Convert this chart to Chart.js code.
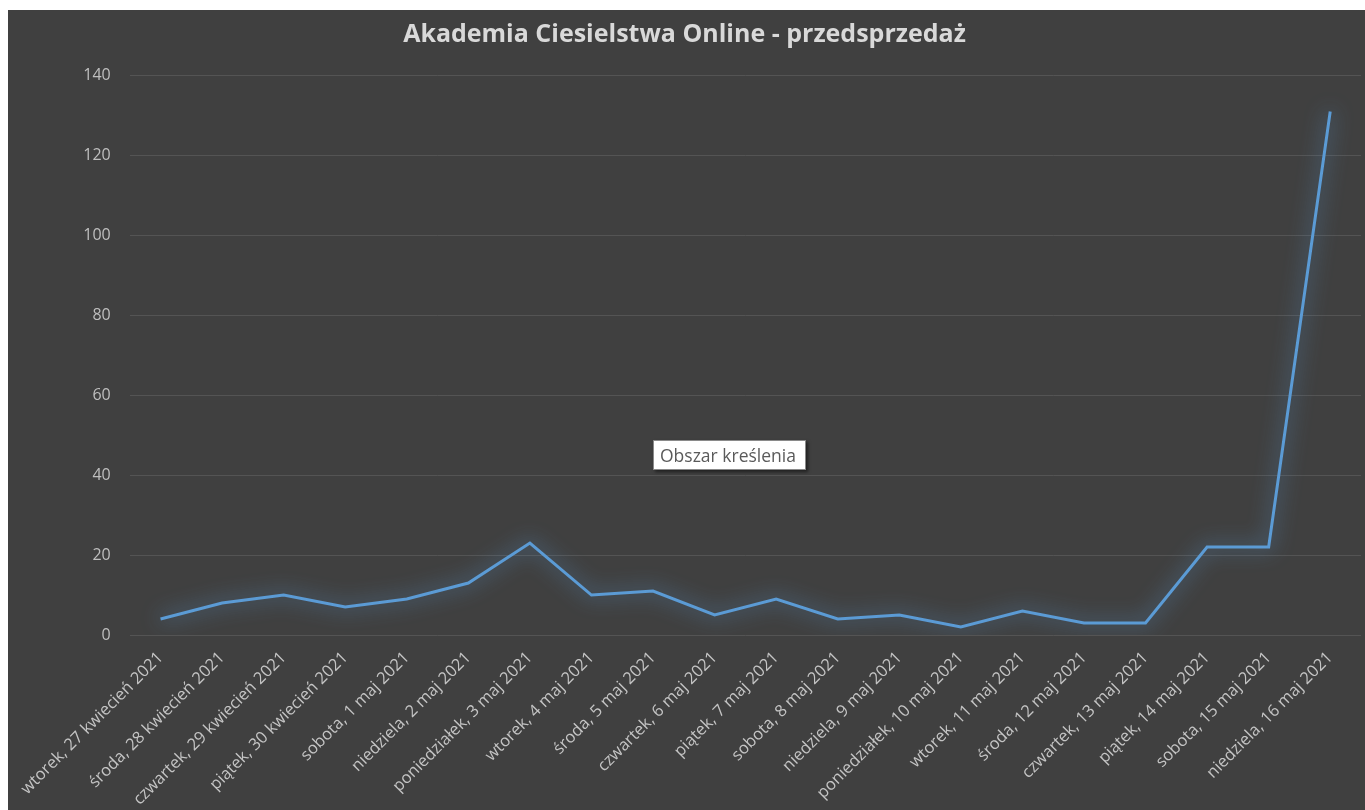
<!DOCTYPE html>
<html>
<head>
<meta charset="utf-8">
<script src="https://cdn.jsdelivr.net/npm/chart.js@4/dist/chart.umd.min.js"></script>
<style>
  html, body { margin: 0; padding: 0; background: #ffffff; width: 1365px; height: 810px; overflow: hidden; }
  #wrap { position: absolute; left: 8px; top: 10px; width: 1357px; height: 800px; background: #404040; }
  #tip { position: absolute; left: 653px; top: 440px; width: 145px; height: 28px; background: #ffffff;
         border: 1px solid #8a8a8a; box-shadow: 2px 2px 3px rgba(0,0,0,0.5);
         font-family: "Open Sans", sans-serif; font-size: 17.5px; color: #5a5a5a; line-height: 28px;
         padding-left: 6px; box-sizing: content-box; white-space: nowrap; overflow: hidden; }
</style>
</head>
<body>
<div id="wrap"><canvas id="c"></canvas></div>
<div id="tip">Obszar kreślenia</div>
<script>
const title = "Akademia Ciesielstwa Online - przedsprzedaż";
const categories = [
  "wtorek, 27 kwiecień 2021", "środa, 28 kwiecień 2021", "czwartek, 29 kwiecień 2021",
  "piątek, 30 kwiecień 2021", "sobota, 1 maj 2021", "niedziela, 2 maj 2021",
  "poniedziałek, 3 maj 2021", "wtorek, 4 maj 2021", "środa, 5 maj 2021",
  "czwartek, 6 maj 2021", "piątek, 7 maj 2021", "sobota, 8 maj 2021",
  "niedziela, 9 maj 2021", "poniedziałek, 10 maj 2021", "wtorek, 11 maj 2021",
  "środa, 12 maj 2021", "czwartek, 13 maj 2021", "piątek, 14 maj 2021",
  "sobota, 15 maj 2021", "niedziela, 16 maj 2021"
];
const sales = [4, 8, 10, 7, 9, 13, 23, 10, 11, 5, 9, 4, 5, 2, 6, 3, 3, 22, 22, 131];
const yTicks = [0, 20, 40, 60, 80, 100, 120, 140];

const glow = {
  id: 'glow',
  beforeDatasetDraw(chart) {
    const ctx = chart.ctx;
    ctx.save();
    ctx.shadowColor = 'rgba(91,155,213,1)';
    ctx.shadowBlur = 20;
  },
  afterDatasetDraw(chart) {
    chart.ctx.restore();
  }
};

new Chart(document.getElementById('c'), {
  type: 'line',
  data: {
    labels: categories,
    datasets: [{
      data: sales,
      borderColor: '#5b9bd5',
      borderWidth: 3,
      tension: 0,
      pointRadius: 0,
      fill: false
    }]
  },
  options: {
    responsive: true,
    maintainAspectRatio: false,
    animation: false,
    layout: { padding: { left: 0, right: 4, top: 0, bottom: 0 } },
    plugins: {
      legend: { display: false },
      tooltip: { enabled: false },
      title: {
        display: true,
        text: title,
        color: '#d9d9d9',
        font: { family: 'Open Sans', size: 25, weight: 'bold' },
        padding: { top: 10, bottom: 25.5 }
      }
    },
    scales: {
      x: {
        offset: true,
        grid: { display: false, drawTicks: false },
        border: { display: false },
        ticks: {
          autoSkip: false,
          minRotation: 45,
          maxRotation: 45,
          padding: 13,
          color: '#c4c4c4',
          font: { family: 'Open Sans', size: 16.5 }
        },
        afterFit(scale) { scale.height = 175; }
      },
      y: {
        min: 0,
        max: 140,
        afterBuildTicks(scale) { scale.ticks = yTicks.map(v => ({ value: v })); },
        grid: { color: '#545454', lineWidth: 1, drawTicks: false },
        border: { display: false },
        ticks: {
          padding: 19,
          color: '#bfbfbf',
          font: { family: 'Open Sans', size: 16 }
        },
        afterFit(scale) { scale.width = 113; }
      }
    }
  },
  plugins: [glow]
});
</script>
</body>
</html>
